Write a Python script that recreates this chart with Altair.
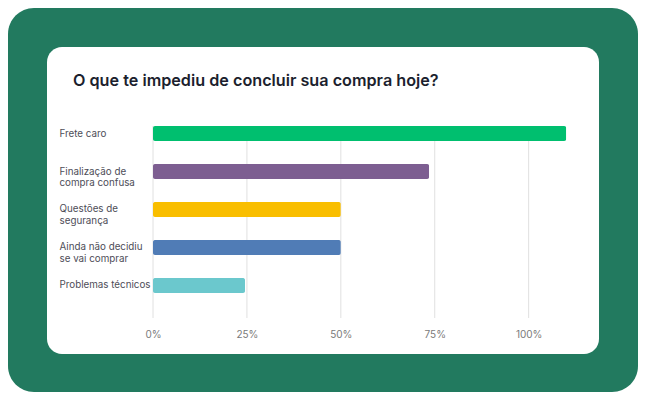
import altair as alt
import pandas as pd

titulo = "O que te impediu de concluir sua compra hoje?"
motivos = [
    "Frete caro",
    "Finalização de\ncompra confusa",
    "Questões de\nsegurança",
    "Ainda não decidiu\nse vai comprar",
    "Problemas técnicos",
]
percentuais = [110, 73.5, 50, 50, 24.5]
cores = ["#00bf6f", "#7d5e91", "#f9be00", "#507cb6", "#6bc8cd"]
marcas_x = [0, 25, 50, 75, 100]

df = pd.DataFrame({"motivo": motivos, "pct": percentuais, "cor": cores})
grade = pd.DataFrame({"pct": marcas_x})
um = pd.DataFrame({"t": [titulo]})

W, H = 432, 192
TOTAL_W, TOTAL_H = 630, 384

eixo_x = alt.Axis(
    values=marcas_x, labelExpr="datum.value + '%'", grid=False, domain=False,
    ticks=False, labelPadding=11, labelFont="Inter", labelFontSize=10,
    labelColor="#7a7a7a", labelFlush=False, title=None, zindex=1,
)
x_enc = alt.X("pct:Q", scale=alt.Scale(domain=[0, 115], nice=False), axis=eixo_x)

# fundo verde e cartão branco
fundo = alt.Chart(um).mark_rect(color="#227a5f", cornerRadius=26).encode(
    x=alt.value(-145), x2=alt.value(TOTAL_W - 145),
    y=alt.value(-118), y2=alt.value(TOTAL_H - 118),
)
cartao = alt.Chart(um).mark_rect(color="white", cornerRadius=15).encode(
    x=alt.value(-106), x2=alt.value(446), y=alt.value(-79), y2=alt.value(228)
)

linhas = alt.Chart(grade).mark_rule(color="#e0e0e0", strokeWidth=1).encode(
    x=x_enc, y=alt.value(0), y2=alt.value(H)
)

barras = alt.Chart(df).mark_bar(cornerRadius=2).encode(
    x=x_enc,
    y=alt.Y(
        "motivo:N", sort=motivos,
        scale=alt.Scale(paddingInner=0.605, paddingOuter=0.329, align=0),
        axis=alt.Axis(
            title=None, domain=False, ticks=False, labelAlign="left",
            labelPadding=94, labelExpr="split(datum.value, '\\n')",
            labelLineHeight=11.5, labelFont="Inter", labelFontSize=9.8,
            labelColor="#4d4d57", zindex=1,
        ),
    ),
    color=alt.Color("cor:N", scale=None),
)

texto = alt.Chart(um).mark_text(
    align="left", baseline="alphabetic", font="Inter", fontSize=16.2,
    fontWeight=600, color="#1c1f2e",
).encode(text="t:N", x=alt.value(-80), y=alt.value(-40))

chart = alt.layer(fundo, cartao, linhas, barras, texto).properties(
    width=W, height=H, background="white",
    padding={"left": 145, "top": 118, "right": TOTAL_W - 145 - W,
             "bottom": TOTAL_H - 118 - H},
    autosize=alt.AutoSizeParams(type="none"),
).configure_view(strokeWidth=0)

chart.save("out.html", embed_options={"renderer": "svg", "actions": False})
